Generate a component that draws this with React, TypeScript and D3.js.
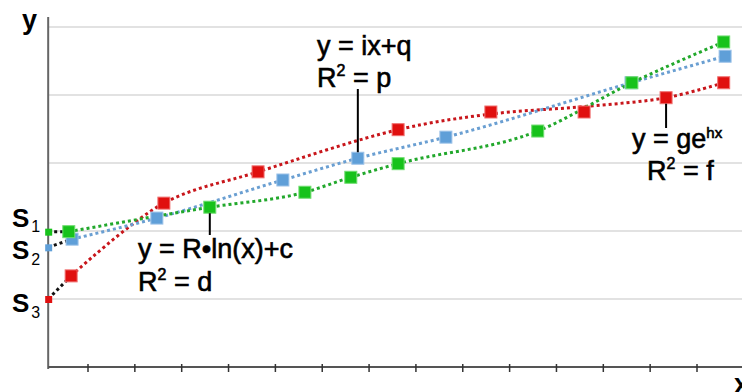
import * as d3 from "d3";

// x in tick units (ticks at 1..14), y in grid units (gridlines at 1..5)
const redX = [0.64, 2.62, 4.63, 7.62, 9.6, 11.59, 13.34, 14.57];
const redY = [1.34, 2.41, 2.87, 3.49, 3.75, 3.75, 3.96, 4.18];
// red dotted trendline, read where it crosses each marker column
const redTrendY = [1.34, 2.41, 2.87, 3.49, 3.72, 3.83, 3.96, 4.18];
const blueX = [0.66, 2.47, 5.16, 6.76, 8.64, 12.59, 14.6];
const blueY = [1.88, 2.19, 2.75, 3.07, 3.38, 4.18, 4.57];
const greenX = [0.59, 3.6, 5.63, 6.61, 7.62, 10.6, 12.61, 14.57];
const greenY = [1.99, 2.35, 2.57, 2.79, 2.99, 3.47, 4.18, 4.78];

// y-axis intercepts S1 (green), S2 (blue), S3 (red)
const interceptY = { green: 1.99, blue: 1.76, red: 1.0 };
const xTicks = d3.range(1, 15);
const gridValues = [1, 2, 3, 4, 5];
const AXIS_X = 0.15;

const W = 742;
const H = 392;
const FONT = "'Liberation Sans', Arial, sans-serif";

const x = d3.scaleLinear().domain([1, 14]).range([88, 697]);
const y = d3.scaleLinear().domain([0, 5]).range([367, 27]);

type Pt = { x: number; y: number };
const zip = (xs: number[], ys: number[]): Pt[] => xs.map((v, i) => ({ x: v, y: ys[i] }));

const series = [
  { key: "red", pts: zip(redX, redY), trend: zip(redX, redTrendY), line: "#c8161b", fill: "#e0100f", edge: "#f07070", icpt: interceptY.red, curve: d3.curveCatmullRom.alpha(0.5) },
  { key: "blue", pts: zip(blueX, blueY), trend: zip(blueX, blueY), line: "#6a9fd2", fill: "#5f9fd8", edge: "#9cc2e8", icpt: interceptY.blue, curve: d3.curveMonotoneX },
  { key: "green", pts: zip(greenX, greenY), trend: zip(greenX, greenY), line: "#22a82c", fill: "#17c21b", edge: "#70dd70", icpt: interceptY.green, curve: d3.curveMonotoneX },
];

const makeLine = (curve: d3.CurveFactory) =>
  d3
    .line<Pt>()
    .x((d) => x(d.x))
    .y((d) => y(d.y))
    .curve(curve);

function Marker({ p, fill, edge, size = 12 }: { p: Pt; fill: string; edge: string; size?: number }) {
  return (
    <rect
      x={x(p.x) - size / 2}
      y={y(p.y) - size / 2}
      width={size}
      height={size}
      fill={fill}
      stroke={edge}
      strokeWidth={1}
    />
  );
}

export default function App() {
  const ax = x(AXIS_X);
  const bluePt = series[1].pts[3];
  const greenPt = series[2].pts[1];
  const redPt = series[0].pts[6];

  return (
    <svg
      width={W}
      height={H}
      style={{ position: "absolute", left: 0, top: 0, background: "#fff" }}
      fontFamily={FONT}
    >
      {/* gridlines */}
      {gridValues.map((g) => (
        <line key={g} x1={ax} x2={W} y1={y(g)} y2={y(g)} stroke="#d9d9d9" strokeWidth={1.5} />
      ))}

      {/* axes */}
      <line x1={ax} x2={ax} y1={17} y2={y(0) + 2} stroke="#666" strokeWidth={2} />
      <line x1={ax} x2={W} y1={y(0)} y2={y(0)} stroke="#555" strokeWidth={2} />
      {xTicks.map((t) => (
        <line key={t} x1={x(t)} x2={x(t)} y1={y(0) - 3} y2={y(0) + 5} stroke="#333" strokeWidth={1.5} />
      ))}

      {/* black dotted connectors from intercepts to first markers */}
      {series.map((s) => (
        <line
          key={s.key + "-c"}
          x1={ax}
          y1={y(s.icpt)}
          x2={x(s.pts[0].x)}
          y2={y(s.pts[0].y)}
          stroke="#111"
          strokeWidth={3}
          strokeDasharray="3 3"
        />
      ))}

      {/* series lines */}
      {series.map((s) => (
        <path
          key={s.key + "-l"}
          d={makeLine(s.curve)(s.trend) ?? ""}
          fill="none"
          stroke={s.line}
          strokeWidth={3}
          strokeDasharray="3 3"
        />
      ))}

      {/* intercept dots */}
      {series.map((s) => (
        <rect key={s.key + "-i"} x={ax - 3} y={y(s.icpt) - 3} width={7} height={7} fill={s.fill} />
      ))}

      {/* markers */}
      {series.map((s) => (
        <g key={s.key + "-m"}>
          {s.pts.map((p, i) => (
            <Marker key={i} p={p} fill={s.fill} edge={s.edge} />
          ))}
        </g>
      ))}

      {/* leader lines */}
      <line x1={x(bluePt.x)} x2={x(bluePt.x)} y1={89} y2={y(bluePt.y) - 6} stroke="#000" strokeWidth={2} />
      <line x1={x(greenPt.x)} x2={x(greenPt.x)} y1={y(greenPt.y) + 6} y2={235} stroke="#000" strokeWidth={2} />
      <line x1={x(redPt.x)} x2={x(redPt.x)} y1={y(redPt.y) + 6} y2={128} stroke="#000" strokeWidth={2} />

      {/* annotations */}
      <g fill="#000" stroke="#000" strokeWidth={0.6} fontSize={27}>
        <text x={317} y={55}>y = ix+q</text>
        <text x={317} y={87}>
          R<tspan fontSize={16} dy={-11}>2</tspan>
          <tspan dy={11}> = p</tspan>
        </text>

        <text x={138} y={258}>y = R•ln(x)+c</text>
        <text x={138} y={291}>
          R<tspan fontSize={16} dy={-11}>2</tspan>
          <tspan dy={11}> = d</tspan>
        </text>

        <text x={632} y={148}>
          y = ge<tspan fontSize={15} dy={-10}>hx</tspan>
        </text>
        <text x={647} y={180}>
          R<tspan fontSize={16} dy={-11}>2</tspan>
          <tspan dy={11}> = f</tspan>
        </text>
      </g>

      {/* axis letters */}
      <g fill="#000" fontWeight="bold">
        <text x={22} y={29} fontSize={27}>y</text>
        <text x={734} y={393} fontSize={27}>x</text>
        <text x={12} y={227} fontSize={26}>
          S<tspan fontSize={16} fontWeight="normal" dx={2} dy={5}>1</tspan>
        </text>
        <text x={12} y={259} fontSize={26}>
          S<tspan fontSize={16} fontWeight="normal" dx={2} dy={6}>2</tspan>
        </text>
        <text x={12} y={312} fontSize={26}>
          S<tspan fontSize={16} fontWeight="normal" dx={2} dy={6}>3</tspan>
        </text>
      </g>
    </svg>
  );
}
